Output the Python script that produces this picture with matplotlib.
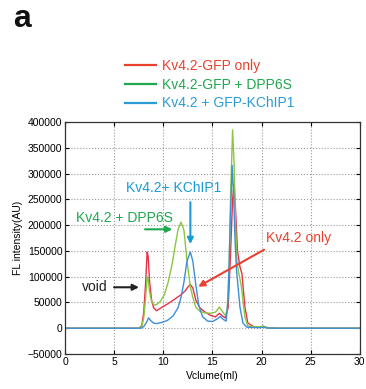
import numpy as np
import matplotlib
matplotlib.use("Agg")
import matplotlib.pyplot as plt
from matplotlib.lines import Line2D

plt.rcParams['font.family'] = ['Liberation Sans', 'DejaVu Sans']

# Kv4.2-GFP only
vol_red = [0, 7.5, 7.8, 8.0, 8.2, 8.35, 8.45, 8.6, 8.8, 9.0, 9.3, 9.8, 10.5, 11.2, 11.8,
           12.2, 12.5, 12.75, 13.0, 13.3, 13.7, 14.2, 14.8, 15.3, 15.7, 16.0, 16.3, 16.6,
           16.85, 17.05, 17.2, 17.35, 17.55, 17.8, 18.0, 18.3, 18.6, 19.2, 19.8, 20.2, 20.6,
           21.5, 30]
fl_red = [0, 0, 5000, 30000, 90000, 148000, 140000, 90000, 55000, 40000, 34000, 40000, 48000,
          57000, 65000, 72000, 80000, 85000, 78000, 55000, 40000, 32000, 25000, 22000, 29000,
          24000, 20000, 40000, 150000, 250000, 280000, 230000, 150000, 119000, 106000, 41000,
          10000, 3000, 2500, 3500, 1000, 0, 0]

# Kv4.2-GFP + DPP6S
vol_green = [0, 7.5, 7.8, 8.0, 8.2, 8.35, 8.45, 8.6, 8.8, 9.05, 9.3, 9.7, 10.1, 10.5, 10.9,
             11.2, 11.5, 11.8, 12.1, 12.4, 12.75, 13.0, 13.3, 13.7, 14.2, 14.8, 15.3, 15.7,
             16.0, 16.3, 16.5, 16.7, 16.85, 17.05, 17.2, 17.35, 17.5, 17.65, 17.95, 18.3, 18.6,
             19.2, 19.8, 20.2, 20.6, 21.5, 30]
fl_green = [0, 0, 3000, 20000, 60000, 100000, 95000, 70000, 52000, 45000, 46000, 52000, 65000,
            90000, 125000, 160000, 192000, 206000, 190000, 132000, 80000, 60000, 41000, 33000,
            30000, 29000, 31000, 41000, 33000, 25000, 35000, 120000, 260000, 385000, 320000,
            200000, 130000, 110000, 80000, 22000, 4000, 3000, 3000, 4000, 1000, 0, 0]

# Kv4.2 + GFP-KChIP1
vol_blue = [0, 7.7, 8.0, 8.3, 8.5, 8.7, 9.0, 9.3, 9.8, 10.4, 11.0, 11.5, 11.8, 12.1, 12.4,
            12.75, 13.0, 13.3, 13.6, 14.0, 14.5, 15.0, 15.4, 15.8, 16.1, 16.4, 16.6, 16.8,
            17.0, 17.15, 17.3, 17.45, 17.8, 18.1, 18.5, 19.2, 19.8, 20.2, 20.6, 21.5, 30]
fl_blue = [0, 0, 3000, 12000, 20000, 15000, 10000, 9000, 11000, 15000, 24000, 40000, 60000,
           90000, 130000, 148000, 130000, 85000, 45000, 22000, 14000, 13000, 17000, 23000,
           17000, 14000, 60000, 200000, 316000, 260000, 170000, 112000, 41000, 10000, 2000,
           1500, 1000, 2000, 500, 0, 0]

labels = ['Kv4.2-GFP only', 'Kv4.2-GFP + DPP6S', 'Kv4.2 + GFP-KChIP1']
legend_colors = ['#e8412e', '#1fa84f', '#2b9bd6']
curve_colors = ['#e8304a', '#8cc63f', '#3d8fd6']

fig = plt.figure(figsize=(3.66, 3.89), dpi=100)
ax = fig.add_axes([0.178, 0.090, 0.805, 0.596])

ax.plot(vol_red, fl_red, color=curve_colors[0], lw=1.0)
ax.plot(vol_green, fl_green, color=curve_colors[1], lw=1.0)
ax.plot(vol_blue, fl_blue, color=curve_colors[2], lw=1.0)

ax.set_xlim(0, 30)
ax.set_ylim(-50000, 400000)
ax.set_xticks(np.arange(0, 31, 5))
ax.set_yticks(np.arange(-50000, 400001, 50000))
ax.set_yticklabels([f'{v:d}'.replace('-', '\u2212') for v in range(-50000, 400001, 50000)])
ax.tick_params(direction='in', top=True, right=True, labelsize=7.5, length=3, pad=2)
ax.grid(True, linestyle=':', color='#999999', lw=0.8)
ax.set_xlabel('Vclume(ml)', fontsize=7.5, labelpad=3)
ax.set_ylabel('FL intensity(AU)', fontsize=7.5, labelpad=3)
for s in ax.spines.values():
    s.set_linewidth(0.9)
    s.set_color('#333333')

# annotations
ax.annotate('', xy=(11.2, 192000), xytext=(7.85, 192000),
            arrowprops=dict(arrowstyle='-|>', color='#1fa84f', lw=1.5, mutation_scale=9))
ax.text(6.0, 213000, 'Kv4.2 + DPP6S', color='#1fa84f', fontsize=10, ha='center', va='center')
ax.annotate('', xy=(12.75, 158000), xytext=(12.75, 250000),
            arrowprops=dict(arrowstyle='-|>', color='#1a9ad6', lw=1.5, mutation_scale=9))
ax.text(11.0, 272000, 'Kv4.2+ KChIP1', color='#1a9ad6', fontsize=10, ha='center', va='center')
ax.annotate('', xy=(13.3, 78000), xytext=(20.5, 155000),
            arrowprops=dict(arrowstyle='-|>', color='#e8412e', lw=1.5, mutation_scale=9))
ax.text(23.8, 176000, 'Kv4.2 only', color='#e8412e', fontsize=10, ha='center', va='center')
ax.annotate('', xy=(7.8, 79500), xytext=(4.7, 79500),
            arrowprops=dict(arrowstyle='-|>', color='#222222', lw=1.5, mutation_scale=9))
ax.text(3.0, 80000, 'void', color='#222222', fontsize=10, ha='center', va='center')

handles = [Line2D([], [], color=c, lw=1.6) for c in legend_colors]
fig.legend(handles, labels, loc='upper left', bbox_to_anchor=(0.325, 0.862),
           frameon=False, fontsize=10, labelcolor=legend_colors, handlelength=2.3,
           handletextpad=0.4, labelspacing=0.33, borderaxespad=0)

fig.text(0.035, 0.952, 'a', fontsize=23, fontweight='bold', color='#111111',
         ha='left', va='center')

fig.savefig('out.png', dpi=100)
